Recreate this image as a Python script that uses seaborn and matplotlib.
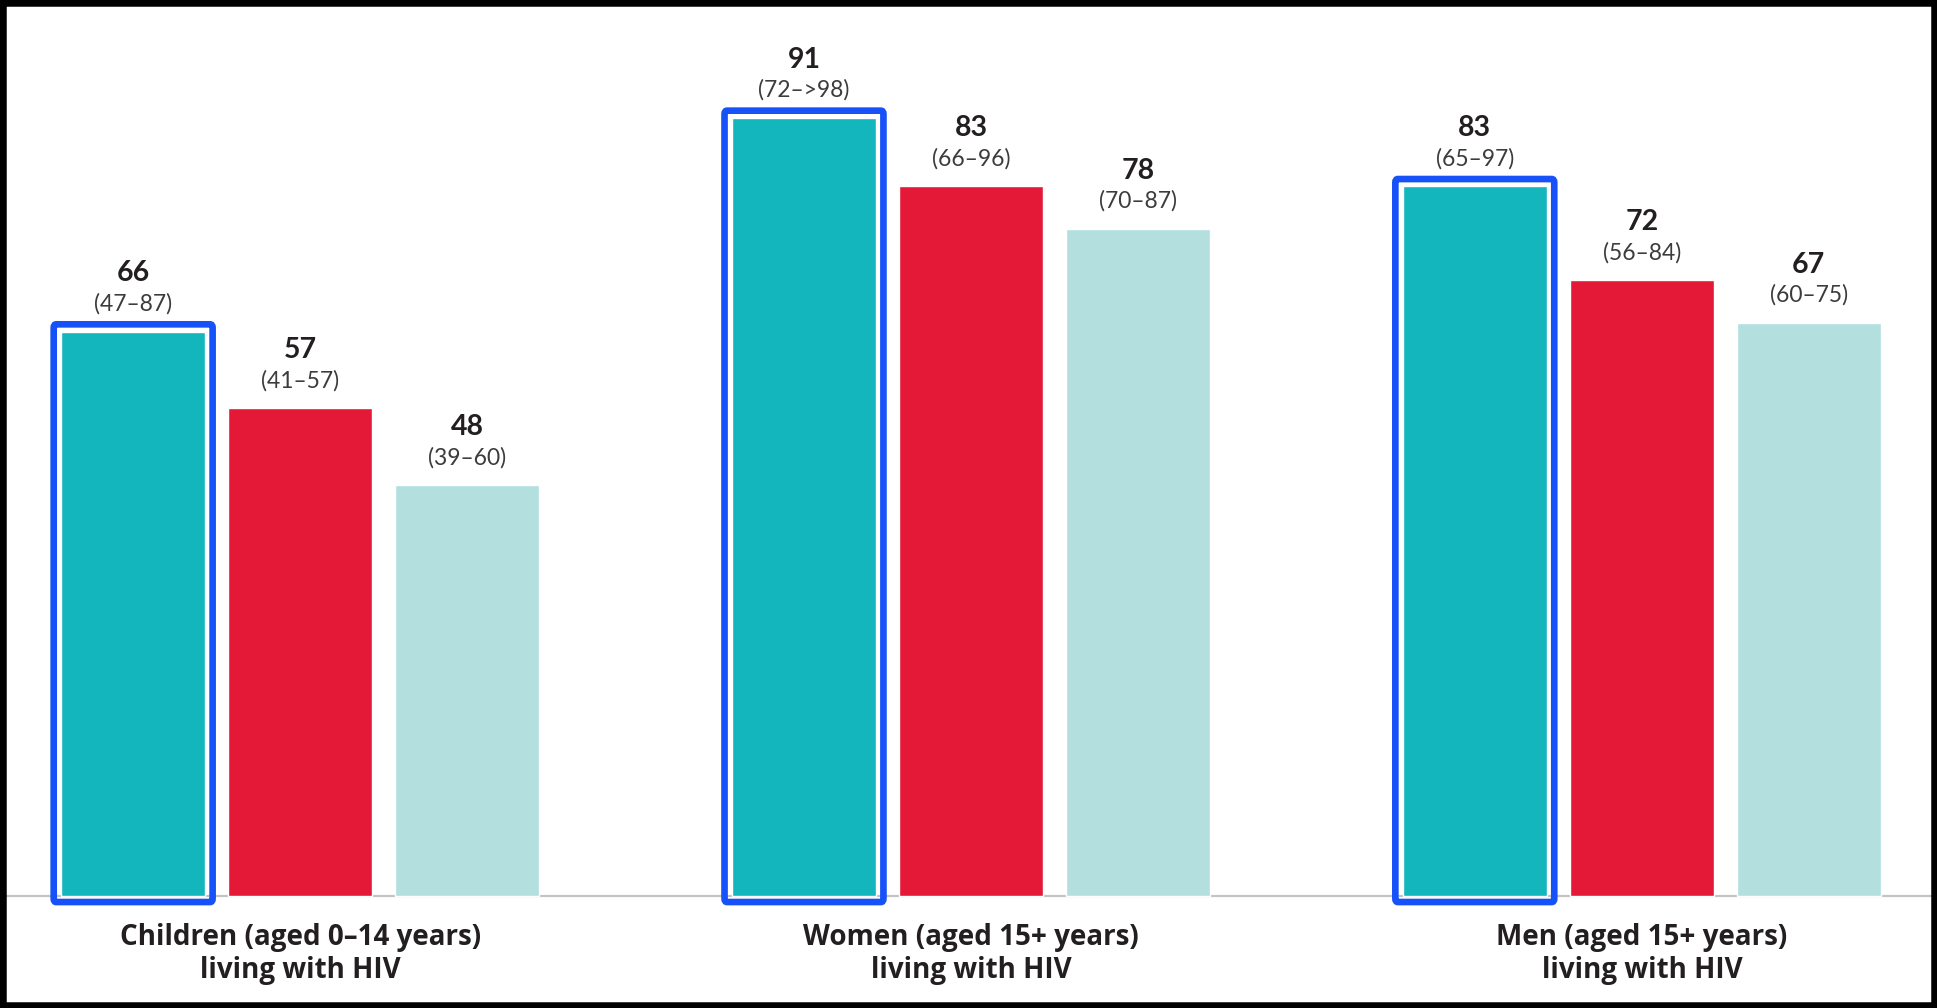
import pandas as pd
import matplotlib.pyplot as plt
import seaborn as sns
from matplotlib.patches import FancyBboxPatch, Rectangle

# Chart values
groups = ["Children (aged 0–14 years)\nliving with HIV",
          "Women (aged 15+ years)\nliving with HIV",
          "Men (aged 15+ years)\nliving with HIV"]
series = ["Series 1", "Series 2", "Series 3"]
values_s1 = [66, 91, 83]
values_s2 = [57, 83, 72]
values_s3 = [48, 78, 67]
ranges_s1 = ["(47–87)", "(72–>98)", "(65–97)"]
ranges_s2 = ["(41–57)", "(66–96)", "(56–84)"]
ranges_s3 = ["(39–60)", "(70–87)", "(60–75)"]

colors = ["#13B6BD", "#E31937", "#B3DFDF"]
frame_color = "#1652F8"

data = pd.DataFrame({
    "group": groups * 3,
    "series": [s for s in series for _ in groups],
    "value": values_s1 + values_s2 + values_s3,
})
ranges = [ranges_s1, ranges_s2, ranges_s3]

sns.set_theme(style="white")
plt.rcParams["font.family"] = ["Lato", "DejaVu Sans"]

fig = plt.figure(figsize=(19.37, 10.08), dpi=100)
ax = fig.add_axes([0, 0, 1, 1])

sns.barplot(data=data, x="group", y="value", hue="series", order=groups,
            hue_order=series, palette=colors, width=0.747, gap=0.137,
            saturation=1, legend=False, ax=ax, zorder=2)

ax.set_xlim(-0.4475, 2.44)
ax.set_ylim(-13.15, 104.8)
ax.axis("off")

# baseline
ax.axhline(0, color="#C4C4C4", lw=1.6, zorder=1)

# value labels
for cont, rng in zip(ax.containers, ranges):
    for bar, r in zip(cont, rng):
        xc = bar.get_x() + bar.get_width() / 2
        h = bar.get_height()
        ax.annotate(f"{h:.0f}", (xc, h), xytext=(0, 42), textcoords="offset points",
                    ha="center", va="center", fontsize=20.5, fontweight="bold",
                    color="#231F20")
        ax.annotate(r, (xc, h), xytext=(0, 20), textcoords="offset points",
                    ha="center", va="center", fontsize=16.5,
                    color="#3C3C3C")

# blue frames around first-series bars
for bar in ax.containers[0]:
    x0 = bar.get_x()
    w = bar.get_width()
    h = bar.get_height()
    pad_x = 0.011
    frame = FancyBboxPatch((x0 - pad_x, -0.75), w + 2 * pad_x, h + 0.75 + 0.85,
                           boxstyle="round,pad=0,rounding_size=0.004",
                           fill=False, edgecolor=frame_color, lw=4.8,
                           mutation_aspect=100, zorder=3)
    ax.add_patch(frame)

# category labels
for i, g in enumerate(groups):
    ax.text(i, -6.85, g, ha="center", va="center", fontsize=20,
            fontweight="bold", family=["Open Sans", "DejaVu Sans"],
            color="#231F20", linespacing=1.2)

# black border around the figure
fig.patches.append(Rectangle((0, 0), 1, 1, transform=fig.transFigure,
                             fill=False, edgecolor="black", lw=9, zorder=10))

fig.savefig("out.png", dpi=100)
